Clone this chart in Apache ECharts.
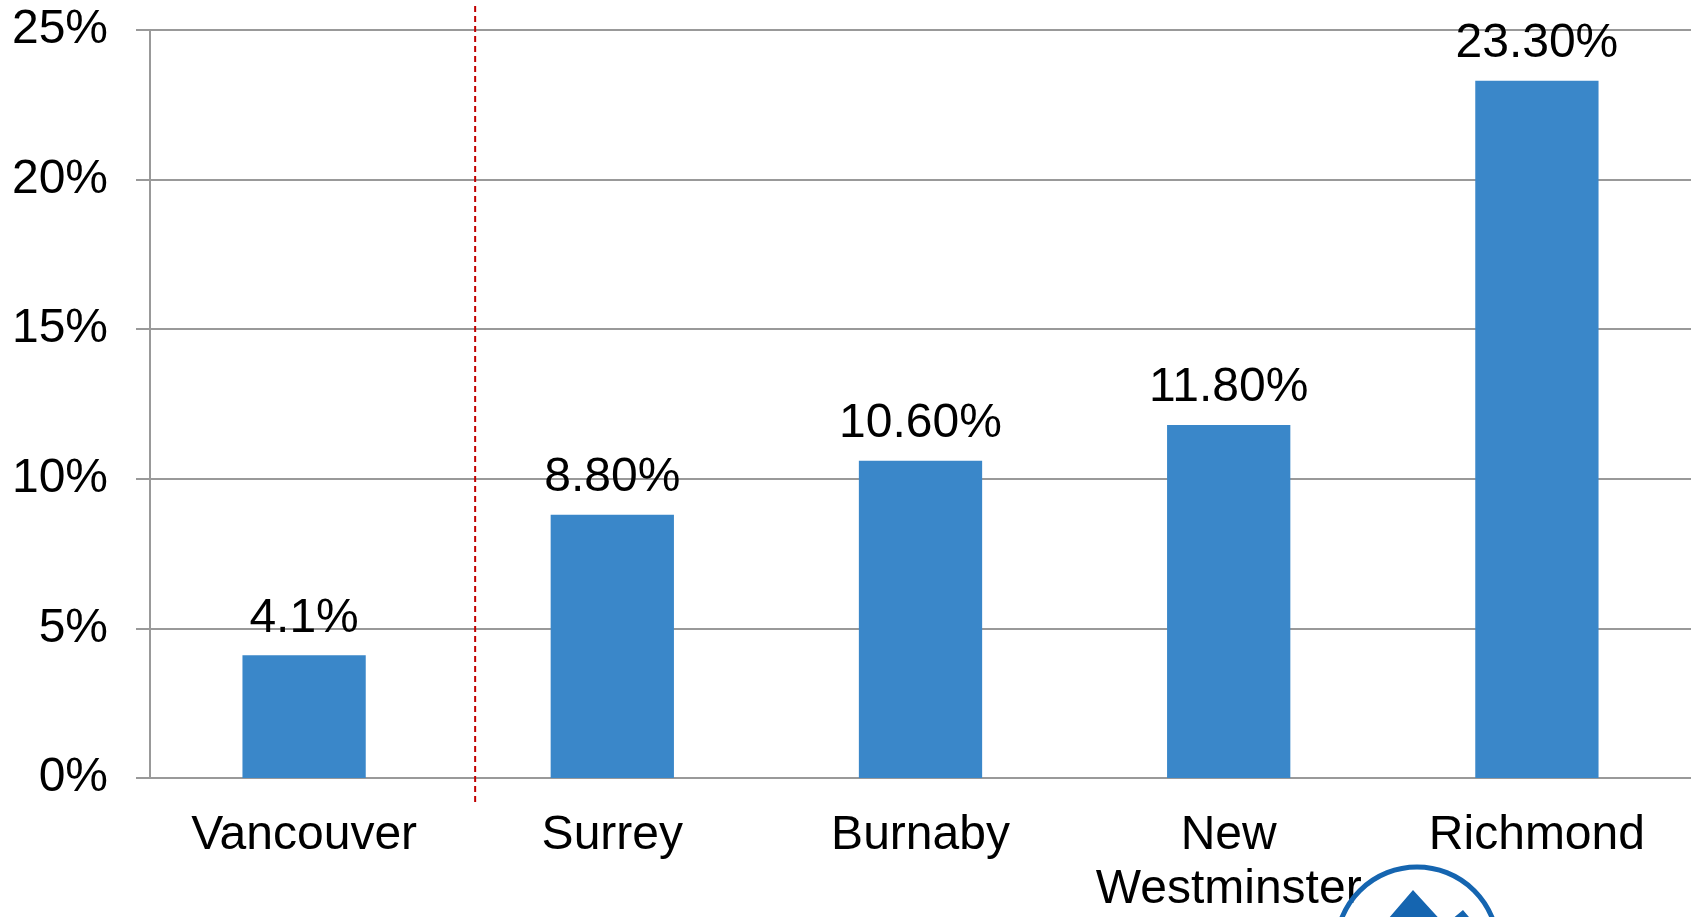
<!DOCTYPE html>
<html>
<head>
<meta charset="utf-8">
<script src="https://cdn.jsdelivr.net/npm/echarts@6/dist/echarts.min.js"></script>
<style>
  html, body { margin: 0; padding: 0; background: #fff; }
  #chart { width: 1691px; height: 917px; }
</style>
</head>
<body>
<div id="chart"></div>
<script>
  var cities = ['Vancouver', 'Surrey', 'Burnaby', 'New\nWestminster', 'Richmond']
  var shares = [4.1, 8.8, 10.6, 11.8, 23.3]
  var shareLabels = ['4.1%', '8.80%', '10.60%', '11.80%', '23.30%']
  var yTicks = [0, 5, 10, 15, 20, 25]
  // where the dashed divider sits, in category units (0..5 across the plot)
  var dividerAt = 1.055

  var font = '"Liberation Sans", Arial, sans-serif'
  var gridColor = '#999999'

  var chart = echarts.init(document.getElementById('chart'))
  chart.setOption({
    animation: false,
    grid: {
      left: 150,
      right: 0,
      top: 30,
      bottom: 132
    },
    xAxis: [
      {
        type: 'category',
        data: cities,
        axisLine: { lineStyle: { color: gridColor, width: 2 } },
        axisTick: { length: 14, lineStyle: { color: gridColor, width: 2 } },
        axisLabel: {
          color: '#000',
          fontFamily: font,
          fontSize: 48,
          lineHeight: 54,
          margin: 31,
          interval: 0
        }
      },
      {
        type: 'value',
        min: 0,
        max: 5,
        show: false
      }
    ],
    yAxis: {
      type: 'value',
      min: yTicks[0],
      max: yTicks[yTicks.length - 1],
      interval: 5,
      axisLine: { show: true, lineStyle: { color: gridColor, width: 2 } },
      axisTick: { show: true, length: 14, lineStyle: { color: gridColor, width: 2 } },
      splitLine: { lineStyle: { color: gridColor, width: 2 } },
      axisLabel: {
        formatter: '{value}%',
        color: '#000',
        fontFamily: font,
        fontSize: 48,
        margin: 42
      }
    },
    series: [
      {
        type: 'bar',
        data: shares,
        barWidth: '40%',
        itemStyle: { color: '#3a87c9' },
        label: {
          show: true,
          position: 'top',
          distance: 13,
          color: '#000',
          fontFamily: font,
          fontSize: 48,
          formatter: function(p) {
            return shareLabels[p.dataIndex]
          }
        }
      }
    ]
  })

  var divX = chart.convertToPixel({ xAxisIndex: 1 }, dividerAt)
  chart.setOption({
    graphic: [
      {
        type: 'line',
        shape: { x1: divX, y1: 6, x2: divX, y2: 803 },
        style: { stroke: '#c00000', lineWidth: 2, lineDash: [6, 4] },
        z: 10
      },
      // watermark logo, cut off at the bottom edge
      {
        type: 'circle',
        shape: { cx: 1417, cy: 948, r: 81 },
        style: { fill: 'none', stroke: '#1565b0', lineWidth: 5 },
        z: 5
      },
      {
        type: 'polygon',
        shape: { points: [[1370, 940], [1413, 890], [1445, 925], [1463, 910], [1480, 930], [1480, 940]] },
        style: { fill: '#1565b0' },
        z: 5
      }
    ]
  })
</script>
</body>
</html>
